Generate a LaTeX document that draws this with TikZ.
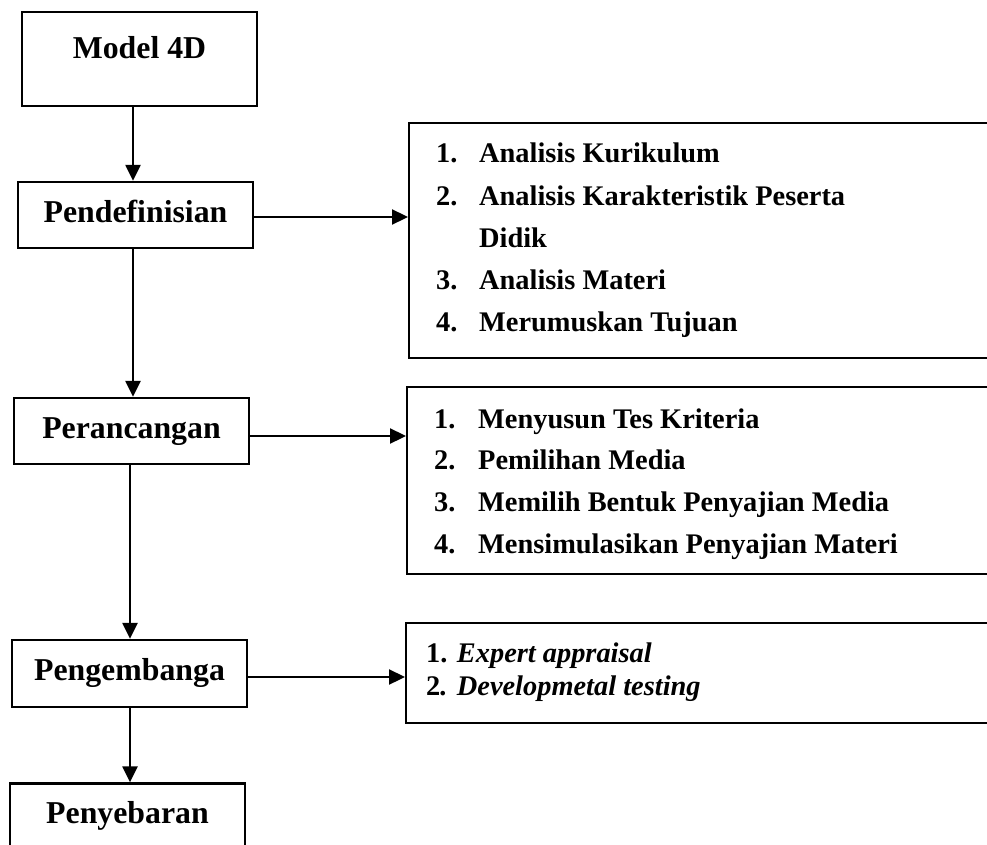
\documentclass[tikz,border=0pt]{standalone}
\usepackage{fontspec}
\setmainfont{Liberation Serif}
\usetikzlibrary{arrows.meta}
\begin{document}
\begin{tikzpicture}[x=1pt,y=-1pt,
  line width=2.3pt,
  stage/.style={draw, rectangle, minimum width=235pt, minimum height=66pt,
    inner sep=0pt, font=\fontsize{31.8}{38}\selectfont\bfseries,
    text height=22.3pt, text depth=8pt},
  listbox/.style={draw, rectangle, anchor=north west, inner sep=0pt},
  listtext/.style={anchor=base west, inner sep=0pt},
  arr/.style={-{Triangle[length=16pt,width=15pt]}, line width=2.3pt}]
\useasboundingbox (0,0) rectangle (987,845);
\clip (0,0) rectangle (987,845);
\fill[white] (0,0) rectangle (987,845);

% left column
\node[stage, minimum height=94pt, text height=20pt, text depth=20pt] (m4d) at (139.5,59) {Model 4D};
\node[stage] (pend) at (135.5,215) {Pendefinisian};
\node[stage] (peran) at (131.5,431) {Perancangan};
\node[stage, minimum height=67pt] (peng) at (129.5,673.5) {Pengembanga};
\node[stage] (peny) at (127.5,816.5) {Penyebaran};

% right boxes
\node[listbox, minimum width=592pt, minimum height=235pt] (r1) at (408,122) {};
\node[listbox, minimum width=594pt, minimum height=187pt] (r2) at (406,386) {};
\node[listbox, minimum width=595pt, minimum height=100pt] (r3) at (405,622) {};

\node[listtext] (t1) at (435,163) {\fontsize{28.4}{42.2}\selectfont\bfseries
  \begin{tabular}[t]{@{}p{43pt}@{}l@{}}
  1. & Analisis Kurikulum\\
  2. & Analisis Karakteristik Peserta\\
     & Didik\\
  3. & Analisis Materi\\
  4. & Merumuskan Tujuan
  \end{tabular}};
\node[listtext] (t2) at (433,428) {\fontsize{28.4}{41.7}\selectfont\bfseries
  \begin{tabular}[t]{@{}p{44pt}@{}l@{}}
  1. & Menyusun Tes Kriteria\\
  2. & Pemilihan Media\\
  3. & Memilih Bentuk Penyajian Media\\
  4. & Mensimulasikan Penyajian Materi
  \end{tabular}};
\node[listtext] (t3) at (425,662) {\fontsize{28.4}{33}\selectfont\bfseries
  \begin{tabular}[t]{@{}l@{}}
  1. \textit{Expert appraisal}\\
  2\textit{. Developmetal testing}
  \end{tabular}};

% connectors
\coordinate (ca) at (133,0);
\coordinate (cb) at (130,0);
\draw[arr] (m4d.south -| ca) -- (pend.north -| ca);
\draw[arr] (pend.south -| ca) -- (peran.north -| ca);
\draw[arr] (peran.south -| cb) -- (peng.north -| cb);
\draw[arr] (peng.south -| cb) -- (peny.north -| cb);

\coordinate (ya) at (0,217);
\coordinate (yb) at (0,436);
\coordinate (yc) at (0,677);
\draw[arr] (pend.east |- ya) -- (r1.west |- ya);
\draw[arr] (peran.east |- yb) -- (r2.west |- yb);
\draw[arr] (peng.east |- yc) -- (r3.west |- yc);
\end{tikzpicture}
\end{document}
